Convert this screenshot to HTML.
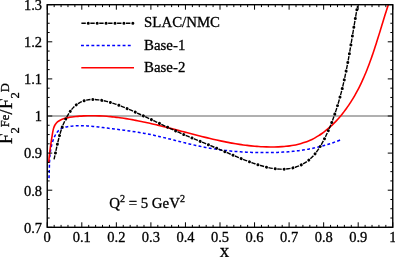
<!DOCTYPE html>
<html><head><meta charset="utf-8"><style>
html,body{margin:0;padding:0;background:#fff;}
svg{display:block;font-family:"Liberation Serif",serif;will-change:transform;}
text{stroke:#000;stroke-width:0.3px;}
</style></head><body>
<svg width="395" height="257" viewBox="0 0 395 257">
<rect width="395" height="257" fill="#fff"/>
<line x1="47.25" x2="392.75" y1="116.0" y2="116.0" stroke="#b0b0b0" stroke-width="1.8"/>
<clipPath id="c"><rect x="47.25" y="4.7" width="345.5" height="222.60000000000002"/></clipPath>
<g clip-path="url(#c)" fill="none">
<path d="M48.98 178.09C49.00 177.62 49.08 176.23 49.12 175.29C49.16 174.36 49.19 173.42 49.22 172.48C49.25 171.54 49.27 170.60 49.30 169.65C49.33 168.71 49.35 167.77 49.38 166.82C49.40 165.88 49.43 164.93 49.47 163.99C49.50 163.04 49.54 162.10 49.58 161.15C49.63 160.21 49.68 159.26 49.75 158.32C49.82 157.38 49.89 156.43 49.98 155.49C50.07 154.55 50.17 153.61 50.29 152.67C50.41 151.73 50.54 150.79 50.70 149.86C50.85 148.92 51.02 147.99 51.22 147.06C51.41 146.13 51.62 145.21 51.87 144.28C52.11 143.36 52.37 142.44 52.66 141.52C52.96 140.61 53.27 139.69 53.63 138.79C53.98 137.89 54.36 136.98 54.78 136.12C55.20 135.26 55.66 134.41 56.16 133.62C56.67 132.84 57.21 132.08 57.82 131.40C58.42 130.71 59.07 130.08 59.78 129.54C60.49 129.00 61.27 128.54 62.09 128.16C62.92 127.78 63.83 127.51 64.74 127.27C65.65 127.03 66.60 126.86 67.54 126.70C68.48 126.53 69.43 126.40 70.38 126.28C71.32 126.16 72.26 126.06 73.21 125.98C74.15 125.90 75.10 125.84 76.04 125.79C76.98 125.74 77.93 125.72 78.87 125.70C79.82 125.69 80.76 125.69 81.71 125.70C82.65 125.72 83.59 125.75 84.54 125.78C85.48 125.82 86.43 125.88 87.37 125.94C88.31 126.00 89.26 126.07 90.20 126.14C91.14 126.22 92.09 126.31 93.03 126.40C93.97 126.50 94.91 126.60 95.86 126.70C96.80 126.80 97.74 126.91 98.68 127.03C99.62 127.14 100.56 127.25 101.50 127.37C102.44 127.49 103.38 127.60 104.32 127.72C105.26 127.84 106.20 127.96 107.14 128.07C108.08 128.19 109.02 128.30 109.96 128.42C110.89 128.53 111.83 128.65 112.77 128.77C113.70 128.88 114.64 129.00 115.57 129.11C116.51 129.23 117.45 129.35 118.38 129.47C119.31 129.58 120.25 129.70 121.18 129.82C122.12 129.94 123.05 130.07 123.98 130.19C124.91 130.31 125.85 130.44 126.78 130.57C127.71 130.69 128.64 130.82 129.57 130.95C130.50 131.09 131.43 131.22 132.36 131.36C133.29 131.50 134.22 131.64 135.14 131.78C136.07 131.92 137.00 132.07 137.93 132.22C138.86 132.37 139.78 132.53 140.71 132.68C141.63 132.84 142.56 133.01 143.48 133.17C144.41 133.34 145.33 133.51 146.26 133.69C147.18 133.86 148.10 134.04 149.03 134.23C149.95 134.41 150.87 134.61 151.79 134.80C152.72 134.99 153.64 135.19 154.56 135.40C155.48 135.60 156.40 135.81 157.32 136.02C158.24 136.23 159.16 136.44 160.08 136.66C161.00 136.87 161.92 137.09 162.84 137.32C163.76 137.54 164.67 137.76 165.59 137.99C166.51 138.21 167.43 138.44 168.35 138.67C169.27 138.90 170.19 139.13 171.10 139.36C172.02 139.59 172.94 139.82 173.86 140.06C174.78 140.29 175.69 140.52 176.61 140.75C177.53 140.99 178.45 141.22 179.37 141.45C180.29 141.68 181.21 141.91 182.12 142.14C183.04 142.37 183.96 142.60 184.88 142.83C185.80 143.06 186.72 143.28 187.64 143.51C188.56 143.73 189.48 143.95 190.40 144.17C191.32 144.39 192.24 144.60 193.17 144.82C194.09 145.03 195.01 145.24 195.93 145.44C196.85 145.65 197.78 145.85 198.70 146.05C199.62 146.25 200.55 146.44 201.47 146.63C202.40 146.82 203.32 147.01 204.25 147.19C205.18 147.37 206.10 147.54 207.03 147.71C207.96 147.88 208.89 148.04 209.81 148.20C210.74 148.36 211.67 148.52 212.60 148.67C213.53 148.82 214.46 148.96 215.40 149.10C216.33 149.24 217.26 149.38 218.19 149.51C219.12 149.64 220.06 149.76 220.99 149.89C221.92 150.01 222.86 150.12 223.79 150.24C224.73 150.35 225.66 150.46 226.60 150.56C227.54 150.66 228.47 150.76 229.41 150.86C230.35 150.95 231.28 151.05 232.22 151.13C233.16 151.22 234.10 151.30 235.04 151.38C235.98 151.46 236.91 151.53 237.85 151.60C238.79 151.67 239.73 151.74 240.67 151.80C241.61 151.87 242.56 151.93 243.50 151.98C244.44 152.04 245.38 152.09 246.32 152.13C247.26 152.18 248.21 152.23 249.15 152.27C250.09 152.31 251.04 152.34 251.98 152.38C252.92 152.41 253.87 152.44 254.81 152.46C255.75 152.49 256.70 152.51 257.64 152.53C258.59 152.55 259.53 152.57 260.48 152.58C261.42 152.59 262.37 152.60 263.31 152.61C264.26 152.61 265.20 152.62 266.15 152.61C267.10 152.61 268.04 152.61 268.99 152.60C269.93 152.58 270.88 152.57 271.82 152.55C272.77 152.53 273.71 152.51 274.66 152.48C275.60 152.46 276.55 152.42 277.49 152.39C278.44 152.35 279.38 152.31 280.32 152.26C281.27 152.21 282.21 152.16 283.15 152.11C284.09 152.05 285.04 151.99 285.98 151.92C286.92 151.85 287.86 151.78 288.80 151.70C289.74 151.62 290.68 151.54 291.62 151.45C292.56 151.36 293.49 151.26 294.43 151.16C295.37 151.06 296.30 150.95 297.24 150.84C298.17 150.72 299.11 150.60 300.04 150.47C300.97 150.35 301.91 150.21 302.84 150.07C303.77 149.93 304.70 149.79 305.63 149.63C306.55 149.48 307.48 149.32 308.41 149.15C309.33 148.98 310.26 148.81 311.18 148.62C312.10 148.44 313.03 148.25 313.95 148.05C314.87 147.86 315.79 147.65 316.70 147.44C317.62 147.23 318.54 147.01 319.45 146.78C320.36 146.55 321.28 146.31 322.19 146.07C323.10 145.82 324.00 145.57 324.91 145.31C325.82 145.05 326.72 144.78 327.63 144.50C328.53 144.22 329.43 143.94 330.33 143.64C331.23 143.34 332.12 143.04 333.02 142.73C333.91 142.41 334.81 142.09 335.70 141.76C336.59 141.43 337.48 141.09 338.36 140.73C339.25 140.38 340.57 139.83 341.01 139.65" stroke="#0000ff" stroke-width="1.5" stroke-dasharray="2.9 2.3"/>
<path d="M48.68 163.00C48.74 162.35 48.89 160.39 49.01 159.09C49.13 157.80 49.26 156.52 49.40 155.24C49.53 153.96 49.68 152.69 49.84 151.42C50.00 150.15 50.17 148.89 50.34 147.62C50.51 146.35 50.69 145.08 50.88 143.81C51.07 142.53 51.26 141.25 51.46 139.97C51.66 138.68 51.87 137.39 52.08 136.08C52.29 134.78 52.47 133.44 52.73 132.14C52.98 130.84 53.21 129.50 53.60 128.27C54.00 127.05 54.46 125.84 55.11 124.79C55.75 123.74 56.55 122.77 57.47 121.97C58.38 121.17 59.47 120.53 60.60 119.97C61.73 119.41 62.99 118.99 64.23 118.60C65.48 118.22 66.78 117.92 68.07 117.65C69.35 117.37 70.65 117.15 71.95 116.95C73.24 116.75 74.54 116.59 75.84 116.46C77.14 116.32 78.45 116.21 79.75 116.12C81.05 116.03 82.35 115.96 83.65 115.89C84.95 115.83 86.24 115.79 87.54 115.76C88.83 115.73 90.13 115.71 91.42 115.71C92.71 115.71 94.00 115.72 95.29 115.75C96.58 115.77 97.87 115.81 99.16 115.86C100.44 115.92 101.73 115.98 103.01 116.06C104.30 116.13 105.58 116.22 106.86 116.32C108.14 116.42 109.42 116.54 110.70 116.66C111.98 116.78 113.26 116.92 114.54 117.06C115.81 117.21 117.09 117.36 118.36 117.53C119.64 117.69 120.91 117.87 122.19 118.05C123.46 118.23 124.73 118.43 126.00 118.63C127.27 118.83 128.54 119.04 129.81 119.26C131.08 119.48 132.35 119.71 133.62 119.94C134.88 120.18 136.15 120.42 137.41 120.67C138.68 120.92 139.95 121.17 141.21 121.43C142.47 121.69 143.74 121.96 145.00 122.24C146.26 122.51 147.53 122.79 148.79 123.08C150.05 123.36 151.31 123.65 152.57 123.95C153.83 124.24 155.09 124.54 156.35 124.84C157.61 125.15 158.87 125.45 160.13 125.77C161.39 126.08 162.65 126.39 163.91 126.71C165.17 127.02 166.42 127.34 167.68 127.67C168.94 127.99 170.20 128.31 171.45 128.64C172.71 128.96 173.97 129.29 175.23 129.62C176.48 129.95 177.74 130.28 179.00 130.61C180.25 130.93 181.51 131.27 182.77 131.60C184.02 131.93 185.28 132.26 186.54 132.58C187.79 132.91 189.05 133.24 190.31 133.57C191.56 133.90 192.82 134.22 194.08 134.55C195.33 134.87 196.59 135.19 197.85 135.51C199.10 135.83 200.36 136.15 201.62 136.46C202.88 136.78 204.14 137.09 205.39 137.39C206.65 137.70 207.91 138.01 209.17 138.30C210.43 138.60 211.69 138.90 212.95 139.19C214.21 139.48 215.47 139.76 216.73 140.04C217.99 140.32 219.25 140.60 220.52 140.87C221.78 141.14 223.04 141.40 224.30 141.65C225.57 141.91 226.83 142.16 228.10 142.40C229.36 142.64 230.63 142.88 231.89 143.10C233.16 143.33 234.43 143.55 235.69 143.76C236.96 143.97 238.23 144.17 239.50 144.37C240.77 144.56 242.05 144.74 243.32 144.92C244.59 145.09 245.87 145.26 247.14 145.41C248.42 145.57 249.70 145.71 250.98 145.85C252.26 145.98 253.54 146.10 254.82 146.22C256.11 146.33 257.39 146.43 258.68 146.52C259.96 146.60 261.25 146.68 262.54 146.74C263.84 146.81 265.13 146.86 266.42 146.90C267.72 146.93 269.02 146.96 270.32 146.97C271.62 146.98 272.92 146.98 274.22 146.96C275.53 146.94 276.84 146.91 278.14 146.86C279.45 146.81 280.75 146.74 282.06 146.65C283.36 146.56 284.66 146.46 285.96 146.32C287.26 146.19 288.55 146.04 289.84 145.86C291.13 145.68 292.41 145.48 293.69 145.25C294.96 145.02 296.23 144.76 297.48 144.47C298.74 144.18 299.99 143.87 301.22 143.51C302.46 143.16 303.68 142.78 304.89 142.36C306.10 141.94 307.30 141.49 308.48 141.00C309.67 140.51 310.83 139.98 311.98 139.42C313.13 138.86 314.27 138.26 315.39 137.63C316.51 137.01 317.61 136.34 318.70 135.66C319.79 134.97 320.86 134.25 321.92 133.50C322.98 132.75 324.02 131.98 325.04 131.18C326.07 130.38 327.07 129.56 328.07 128.72C329.06 127.87 330.03 127.00 330.99 126.12C331.95 125.23 332.89 124.32 333.81 123.40C334.74 122.48 335.65 121.53 336.54 120.58C337.43 119.62 338.30 118.65 339.16 117.67C340.01 116.69 340.85 115.69 341.67 114.69C342.49 113.68 343.30 112.67 344.08 111.64C344.87 110.61 345.64 109.58 346.40 108.53C347.15 107.49 347.89 106.43 348.61 105.37C349.34 104.30 350.04 103.23 350.74 102.15C351.43 101.07 352.11 99.98 352.77 98.88C353.44 97.78 354.09 96.67 354.73 95.56C355.37 94.44 355.99 93.32 356.60 92.19C357.22 91.06 357.81 89.93 358.40 88.78C358.99 87.64 359.56 86.49 360.13 85.33C360.69 84.18 361.25 83.01 361.79 81.85C362.33 80.68 362.86 79.50 363.39 78.32C363.91 77.14 364.42 75.96 364.92 74.77C365.43 73.58 365.92 72.39 366.41 71.19C366.89 69.99 367.37 68.78 367.84 67.58C368.31 66.37 368.77 65.16 369.22 63.94C369.68 62.73 370.12 61.51 370.56 60.29C371.00 59.07 371.44 57.84 371.86 56.62C372.29 55.39 372.71 54.16 373.13 52.93C373.55 51.70 373.96 50.47 374.37 49.23C374.78 48.00 375.18 46.76 375.58 45.52C375.98 44.28 376.37 43.05 376.76 41.81C377.16 40.57 377.54 39.33 377.93 38.09C378.32 36.85 378.70 35.61 379.08 34.37C379.47 33.13 379.85 31.89 380.23 30.65C380.61 29.41 380.98 28.17 381.36 26.93C381.74 25.70 382.12 24.46 382.49 23.23C382.87 21.99 383.25 20.76 383.63 19.53C384.01 18.30 384.39 17.07 384.77 15.85C385.15 14.62 385.53 13.40 385.92 12.18C386.30 10.96 386.69 9.75 387.08 8.53C387.47 7.32 388.06 5.51 388.26 4.91" stroke="#ff0000" stroke-width="1.6"/>
<path d="M54.05 159.37C54.19 158.73 54.63 156.80 54.91 155.51C55.20 154.22 55.48 152.93 55.76 151.64C56.04 150.34 56.32 149.05 56.60 147.75C56.89 146.45 57.17 145.16 57.47 143.86C57.77 142.57 58.08 141.28 58.40 139.99C58.72 138.70 59.05 137.42 59.40 136.14C59.75 134.86 60.11 133.59 60.50 132.32C60.89 131.06 61.30 129.79 61.74 128.54C62.17 127.30 62.63 126.05 63.12 124.82C63.61 123.59 64.13 122.37 64.68 121.16C65.24 119.96 65.82 118.76 66.45 117.58C67.08 116.40 67.74 115.22 68.45 114.08C69.15 112.94 69.90 111.79 70.70 110.72C71.50 109.64 72.34 108.59 73.25 107.63C74.15 106.67 75.10 105.75 76.12 104.94C77.14 104.13 78.22 103.41 79.34 102.78C80.47 102.15 81.65 101.61 82.87 101.16C84.08 100.71 85.34 100.35 86.62 100.08C87.89 99.80 89.21 99.62 90.52 99.51C91.84 99.41 93.18 99.41 94.51 99.46C95.84 99.52 97.19 99.67 98.52 99.84C99.85 100.02 101.18 100.26 102.50 100.52C103.82 100.78 105.13 101.07 106.42 101.39C107.72 101.71 109.01 102.05 110.29 102.42C111.57 102.79 112.84 103.19 114.10 103.60C115.36 104.02 116.62 104.45 117.87 104.91C119.12 105.36 120.36 105.83 121.60 106.31C122.84 106.80 124.07 107.30 125.29 107.81C126.52 108.32 127.74 108.84 128.96 109.37C130.18 109.89 131.39 110.43 132.61 110.97C133.82 111.51 135.03 112.05 136.24 112.60C137.45 113.14 138.65 113.69 139.86 114.25C141.06 114.80 142.26 115.35 143.46 115.91C144.66 116.47 145.86 117.03 147.06 117.59C148.26 118.15 149.46 118.71 150.66 119.27C151.85 119.84 153.05 120.40 154.25 120.96C155.44 121.53 156.64 122.09 157.83 122.66C159.03 123.22 160.23 123.78 161.42 124.35C162.62 124.91 163.82 125.47 165.02 126.03C166.22 126.59 167.42 127.15 168.62 127.70C169.82 128.26 171.02 128.81 172.22 129.36C173.43 129.91 174.63 130.46 175.84 131.01C177.05 131.55 178.26 132.09 179.47 132.63C180.68 133.16 181.90 133.70 183.12 134.23C184.34 134.76 185.56 135.28 186.78 135.80C188.00 136.32 189.23 136.84 190.45 137.35C191.68 137.87 192.91 138.38 194.14 138.89C195.37 139.40 196.60 139.90 197.83 140.41C199.06 140.92 200.29 141.42 201.52 141.93C202.75 142.43 203.98 142.93 205.21 143.44C206.44 143.95 207.67 144.45 208.90 144.96C210.12 145.47 211.35 145.98 212.57 146.49C213.80 147.00 215.02 147.51 216.24 148.03C217.46 148.54 218.68 149.06 219.89 149.58C221.11 150.11 222.32 150.63 223.53 151.15C224.75 151.68 225.96 152.20 227.17 152.72C228.38 153.24 229.59 153.77 230.81 154.29C232.02 154.80 233.23 155.32 234.45 155.83C235.66 156.35 236.88 156.86 238.10 157.36C239.32 157.86 240.55 158.36 241.77 158.85C243.00 159.34 244.23 159.83 245.47 160.30C246.70 160.78 247.94 161.25 249.19 161.71C250.43 162.17 251.68 162.62 252.94 163.05C254.20 163.49 255.46 163.92 256.73 164.33C258.00 164.75 259.28 165.15 260.57 165.54C261.85 165.92 263.15 166.29 264.44 166.63C265.74 166.98 267.05 167.30 268.35 167.59C269.66 167.87 270.97 168.14 272.29 168.35C273.61 168.57 274.93 168.76 276.25 168.89C277.57 169.03 278.89 169.13 280.21 169.17C281.54 169.21 282.86 169.20 284.19 169.13C285.51 169.06 286.84 168.94 288.15 168.76C289.46 168.58 290.77 168.34 292.06 168.05C293.35 167.75 294.64 167.40 295.89 167.00C297.15 166.59 298.39 166.13 299.60 165.61C300.80 165.10 301.99 164.52 303.14 163.89C304.28 163.27 305.40 162.58 306.47 161.84C307.55 161.11 308.58 160.31 309.57 159.47C310.56 158.62 311.51 157.72 312.42 156.78C313.33 155.84 314.20 154.85 315.04 153.83C315.88 152.81 316.68 151.75 317.45 150.66C318.22 149.58 318.96 148.46 319.68 147.32C320.40 146.18 321.08 145.02 321.75 143.85C322.42 142.68 323.06 141.49 323.69 140.29C324.32 139.10 324.92 137.90 325.52 136.70C326.11 135.49 326.68 134.29 327.24 133.07C327.80 131.86 328.35 130.65 328.88 129.43C329.41 128.21 329.92 126.99 330.43 125.76C330.93 124.53 331.42 123.30 331.90 122.07C332.37 120.84 332.84 119.60 333.29 118.36C333.74 117.12 334.19 115.87 334.62 114.62C335.05 113.38 335.47 112.12 335.89 110.87C336.30 109.62 336.70 108.36 337.10 107.10C337.49 105.84 337.87 104.57 338.25 103.31C338.62 102.04 338.99 100.77 339.35 99.50C339.71 98.23 340.06 96.95 340.40 95.67C340.75 94.40 341.08 93.12 341.41 91.83C341.74 90.55 342.06 89.27 342.37 87.98C342.68 86.70 342.99 85.41 343.29 84.12C343.59 82.83 343.89 81.53 344.17 80.24C344.46 78.95 344.75 77.65 345.02 76.35C345.30 75.05 345.57 73.76 345.84 72.46C346.11 71.16 346.37 69.85 346.63 68.55C346.88 67.25 347.14 65.94 347.39 64.64C347.64 63.33 347.88 62.03 348.12 60.72C348.36 59.41 348.60 58.11 348.84 56.80C349.07 55.49 349.31 54.18 349.54 52.87C349.77 51.56 349.99 50.25 350.22 48.94C350.45 47.63 350.67 46.32 350.89 45.01C351.11 43.70 351.33 42.39 351.55 41.08C351.77 39.77 351.99 38.46 352.21 37.15C352.43 35.84 352.65 34.53 352.86 33.22C353.08 31.91 353.30 30.60 353.52 29.29C353.73 27.98 353.95 26.68 354.17 25.37C354.39 24.06 354.61 22.76 354.83 21.45C355.05 20.15 355.27 18.84 355.50 17.54C355.72 16.24 355.95 14.93 356.18 13.63C356.40 12.33 356.63 11.04 356.87 9.74C357.10 8.44 357.46 6.50 357.58 5.85" stroke="#000" stroke-width="1.4" stroke-dasharray="4.4 4.5" stroke-dashoffset="0.3"/>
<path d="M54.05 159.37C54.19 158.73 54.63 156.80 54.91 155.51C55.20 154.22 55.48 152.93 55.76 151.64C56.04 150.34 56.32 149.05 56.60 147.75C56.89 146.45 57.17 145.16 57.47 143.86C57.77 142.57 58.08 141.28 58.40 139.99C58.72 138.70 59.05 137.42 59.40 136.14C59.75 134.86 60.11 133.59 60.50 132.32C60.89 131.06 61.30 129.79 61.74 128.54C62.17 127.30 62.63 126.05 63.12 124.82C63.61 123.59 64.13 122.37 64.68 121.16C65.24 119.96 65.82 118.76 66.45 117.58C67.08 116.40 67.74 115.22 68.45 114.08C69.15 112.94 69.90 111.79 70.70 110.72C71.50 109.64 72.34 108.59 73.25 107.63C74.15 106.67 75.10 105.75 76.12 104.94C77.14 104.13 78.22 103.41 79.34 102.78C80.47 102.15 81.65 101.61 82.87 101.16C84.08 100.71 85.34 100.35 86.62 100.08C87.89 99.80 89.21 99.62 90.52 99.51C91.84 99.41 93.18 99.41 94.51 99.46C95.84 99.52 97.19 99.67 98.52 99.84C99.85 100.02 101.18 100.26 102.50 100.52C103.82 100.78 105.13 101.07 106.42 101.39C107.72 101.71 109.01 102.05 110.29 102.42C111.57 102.79 112.84 103.19 114.10 103.60C115.36 104.02 116.62 104.45 117.87 104.91C119.12 105.36 120.36 105.83 121.60 106.31C122.84 106.80 124.07 107.30 125.29 107.81C126.52 108.32 127.74 108.84 128.96 109.37C130.18 109.89 131.39 110.43 132.61 110.97C133.82 111.51 135.03 112.05 136.24 112.60C137.45 113.14 138.65 113.69 139.86 114.25C141.06 114.80 142.26 115.35 143.46 115.91C144.66 116.47 145.86 117.03 147.06 117.59C148.26 118.15 149.46 118.71 150.66 119.27C151.85 119.84 153.05 120.40 154.25 120.96C155.44 121.53 156.64 122.09 157.83 122.66C159.03 123.22 160.23 123.78 161.42 124.35C162.62 124.91 163.82 125.47 165.02 126.03C166.22 126.59 167.42 127.15 168.62 127.70C169.82 128.26 171.02 128.81 172.22 129.36C173.43 129.91 174.63 130.46 175.84 131.01C177.05 131.55 178.26 132.09 179.47 132.63C180.68 133.16 181.90 133.70 183.12 134.23C184.34 134.76 185.56 135.28 186.78 135.80C188.00 136.32 189.23 136.84 190.45 137.35C191.68 137.87 192.91 138.38 194.14 138.89C195.37 139.40 196.60 139.90 197.83 140.41C199.06 140.92 200.29 141.42 201.52 141.93C202.75 142.43 203.98 142.93 205.21 143.44C206.44 143.95 207.67 144.45 208.90 144.96C210.12 145.47 211.35 145.98 212.57 146.49C213.80 147.00 215.02 147.51 216.24 148.03C217.46 148.54 218.68 149.06 219.89 149.58C221.11 150.11 222.32 150.63 223.53 151.15C224.75 151.68 225.96 152.20 227.17 152.72C228.38 153.24 229.59 153.77 230.81 154.29C232.02 154.80 233.23 155.32 234.45 155.83C235.66 156.35 236.88 156.86 238.10 157.36C239.32 157.86 240.55 158.36 241.77 158.85C243.00 159.34 244.23 159.83 245.47 160.30C246.70 160.78 247.94 161.25 249.19 161.71C250.43 162.17 251.68 162.62 252.94 163.05C254.20 163.49 255.46 163.92 256.73 164.33C258.00 164.75 259.28 165.15 260.57 165.54C261.85 165.92 263.15 166.29 264.44 166.63C265.74 166.98 267.05 167.30 268.35 167.59C269.66 167.87 270.97 168.14 272.29 168.35C273.61 168.57 274.93 168.76 276.25 168.89C277.57 169.03 278.89 169.13 280.21 169.17C281.54 169.21 282.86 169.20 284.19 169.13C285.51 169.06 286.84 168.94 288.15 168.76C289.46 168.58 290.77 168.34 292.06 168.05C293.35 167.75 294.64 167.40 295.89 167.00C297.15 166.59 298.39 166.13 299.60 165.61C300.80 165.10 301.99 164.52 303.14 163.89C304.28 163.27 305.40 162.58 306.47 161.84C307.55 161.11 308.58 160.31 309.57 159.47C310.56 158.62 311.51 157.72 312.42 156.78C313.33 155.84 314.20 154.85 315.04 153.83C315.88 152.81 316.68 151.75 317.45 150.66C318.22 149.58 318.96 148.46 319.68 147.32C320.40 146.18 321.08 145.02 321.75 143.85C322.42 142.68 323.06 141.49 323.69 140.29C324.32 139.10 324.92 137.90 325.52 136.70C326.11 135.49 326.68 134.29 327.24 133.07C327.80 131.86 328.35 130.65 328.88 129.43C329.41 128.21 329.92 126.99 330.43 125.76C330.93 124.53 331.42 123.30 331.90 122.07C332.37 120.84 332.84 119.60 333.29 118.36C333.74 117.12 334.19 115.87 334.62 114.62C335.05 113.38 335.47 112.12 335.89 110.87C336.30 109.62 336.70 108.36 337.10 107.10C337.49 105.84 337.87 104.57 338.25 103.31C338.62 102.04 338.99 100.77 339.35 99.50C339.71 98.23 340.06 96.95 340.40 95.67C340.75 94.40 341.08 93.12 341.41 91.83C341.74 90.55 342.06 89.27 342.37 87.98C342.68 86.70 342.99 85.41 343.29 84.12C343.59 82.83 343.89 81.53 344.17 80.24C344.46 78.95 344.75 77.65 345.02 76.35C345.30 75.05 345.57 73.76 345.84 72.46C346.11 71.16 346.37 69.85 346.63 68.55C346.88 67.25 347.14 65.94 347.39 64.64C347.64 63.33 347.88 62.03 348.12 60.72C348.36 59.41 348.60 58.11 348.84 56.80C349.07 55.49 349.31 54.18 349.54 52.87C349.77 51.56 349.99 50.25 350.22 48.94C350.45 47.63 350.67 46.32 350.89 45.01C351.11 43.70 351.33 42.39 351.55 41.08C351.77 39.77 351.99 38.46 352.21 37.15C352.43 35.84 352.65 34.53 352.86 33.22C353.08 31.91 353.30 30.60 353.52 29.29C353.73 27.98 353.95 26.68 354.17 25.37C354.39 24.06 354.61 22.76 354.83 21.45C355.05 20.15 355.27 18.84 355.50 17.54C355.72 16.24 355.95 14.93 356.18 13.63C356.40 12.33 356.63 11.04 356.87 9.74C357.10 8.44 357.46 6.50 357.58 5.85" stroke="#000" stroke-width="3" stroke-linecap="round" stroke-dasharray="0.01 8.89" stroke-dashoffset="-6.55"/>
</g>
<rect x="47.25" y="4.7" width="345.5" height="222.60000000000002" fill="none" stroke="#000" stroke-width="1.4"/>
<path d="M47.25 227.30v-5.0M47.25 4.70v5.0M54.16 227.30v-2.4M54.16 4.70v2.4M61.07 227.30v-2.4M61.07 4.70v2.4M67.98 227.30v-2.4M67.98 4.70v2.4M74.89 227.30v-2.4M74.89 4.70v2.4M81.80 227.30v-5.0M81.80 4.70v5.0M88.71 227.30v-2.4M88.71 4.70v2.4M95.62 227.30v-2.4M95.62 4.70v2.4M102.53 227.30v-2.4M102.53 4.70v2.4M109.44 227.30v-2.4M109.44 4.70v2.4M116.35 227.30v-5.0M116.35 4.70v5.0M123.26 227.30v-2.4M123.26 4.70v2.4M130.17 227.30v-2.4M130.17 4.70v2.4M137.08 227.30v-2.4M137.08 4.70v2.4M143.99 227.30v-2.4M143.99 4.70v2.4M150.90 227.30v-5.0M150.90 4.70v5.0M157.81 227.30v-2.4M157.81 4.70v2.4M164.72 227.30v-2.4M164.72 4.70v2.4M171.63 227.30v-2.4M171.63 4.70v2.4M178.54 227.30v-2.4M178.54 4.70v2.4M185.45 227.30v-5.0M185.45 4.70v5.0M192.36 227.30v-2.4M192.36 4.70v2.4M199.27 227.30v-2.4M199.27 4.70v2.4M206.18 227.30v-2.4M206.18 4.70v2.4M213.09 227.30v-2.4M213.09 4.70v2.4M220.00 227.30v-5.0M220.00 4.70v5.0M226.91 227.30v-2.4M226.91 4.70v2.4M233.82 227.30v-2.4M233.82 4.70v2.4M240.73 227.30v-2.4M240.73 4.70v2.4M247.64 227.30v-2.4M247.64 4.70v2.4M254.55 227.30v-5.0M254.55 4.70v5.0M261.46 227.30v-2.4M261.46 4.70v2.4M268.37 227.30v-2.4M268.37 4.70v2.4M275.28 227.30v-2.4M275.28 4.70v2.4M282.19 227.30v-2.4M282.19 4.70v2.4M289.10 227.30v-5.0M289.10 4.70v5.0M296.01 227.30v-2.4M296.01 4.70v2.4M302.92 227.30v-2.4M302.92 4.70v2.4M309.83 227.30v-2.4M309.83 4.70v2.4M316.74 227.30v-2.4M316.74 4.70v2.4M323.65 227.30v-5.0M323.65 4.70v5.0M330.56 227.30v-2.4M330.56 4.70v2.4M337.47 227.30v-2.4M337.47 4.70v2.4M344.38 227.30v-2.4M344.38 4.70v2.4M351.29 227.30v-2.4M351.29 4.70v2.4M358.20 227.30v-5.0M358.20 4.70v5.0M365.11 227.30v-2.4M365.11 4.70v2.4M372.02 227.30v-2.4M372.02 4.70v2.4M378.93 227.30v-2.4M378.93 4.70v2.4M385.84 227.30v-2.4M385.84 4.70v2.4M392.75 227.30v-5.0M392.75 4.70v5.0M47.25 227.30h5.0M392.75 227.30h-5.0M47.25 218.03h2.4M392.75 218.03h-2.4M47.25 208.75h2.4M392.75 208.75h-2.4M47.25 199.48h2.4M392.75 199.48h-2.4M47.25 190.20h5.0M392.75 190.20h-5.0M47.25 180.93h2.4M392.75 180.93h-2.4M47.25 171.65h2.4M392.75 171.65h-2.4M47.25 162.38h2.4M392.75 162.38h-2.4M47.25 153.10h5.0M392.75 153.10h-5.0M47.25 143.82h2.4M392.75 143.82h-2.4M47.25 134.55h2.4M392.75 134.55h-2.4M47.25 125.27h2.4M392.75 125.27h-2.4M47.25 116.00h5.0M392.75 116.00h-5.0M47.25 106.73h2.4M392.75 106.73h-2.4M47.25 97.45h2.4M392.75 97.45h-2.4M47.25 88.17h2.4M392.75 88.17h-2.4M47.25 78.90h5.0M392.75 78.90h-5.0M47.25 69.62h2.4M392.75 69.62h-2.4M47.25 60.35h2.4M392.75 60.35h-2.4M47.25 51.07h2.4M392.75 51.07h-2.4M47.25 41.80h5.0M392.75 41.80h-5.0M47.25 32.52h2.4M392.75 32.52h-2.4M47.25 23.25h2.4M392.75 23.25h-2.4M47.25 13.97h2.4M392.75 13.97h-2.4M47.25 4.70h5.0M392.75 4.70h-5.0" stroke="#000" stroke-width="1" fill="none"/>
<g font-size="14.5" fill="#000"><text x="47.2" y="242.2" text-anchor="middle">0</text><text x="81.8" y="242.2" text-anchor="middle">0.1</text><text x="116.4" y="242.2" text-anchor="middle">0.2</text><text x="150.9" y="242.2" text-anchor="middle">0.3</text><text x="185.5" y="242.2" text-anchor="middle">0.4</text><text x="220.0" y="242.2" text-anchor="middle">0.5</text><text x="254.5" y="242.2" text-anchor="middle">0.6</text><text x="289.1" y="242.2" text-anchor="middle">0.7</text><text x="323.7" y="242.2" text-anchor="middle">0.8</text><text x="358.2" y="242.2" text-anchor="middle">0.9</text><text x="392.8" y="242.2" text-anchor="middle">1</text><text x="42" y="232.6" text-anchor="end">0.7</text><text x="42" y="195.5" text-anchor="end">0.8</text><text x="42" y="158.4" text-anchor="end">0.9</text><text x="42" y="121.3" text-anchor="end">1</text><text x="42" y="84.2" text-anchor="end">1.1</text><text x="42" y="47.1" text-anchor="end">1.2</text><text x="42" y="10.0" text-anchor="end">1.3</text></g>
<g fill="none">
<path d="M81.4 23.2H134.1" stroke="#000" stroke-width="1.4" stroke-dasharray="4.4 4.52"/>
<path d="M81.4 23.2H134.6" stroke="#000" stroke-width="3" stroke-linecap="round" stroke-dasharray="0.01 8.91" stroke-dashoffset="-6.85"/>
<path d="M81 45.6H131.8" stroke="#0000ff" stroke-width="1.5" stroke-dasharray="2.9 2.3"/>
<path d="M81.3 67.8H134" stroke="#ff0000" stroke-width="1.6"/>
</g>
<g font-size="14.85" fill="#000">
<text x="144.1" y="27.4">SLAC/NMC</text>
<text x="144.1" y="49.5">Base-1</text>
<text x="144.1" y="71.8">Base-2</text>
<text x="109.2" y="208">Q<tspan font-size="10" dy="-6.5">2</tspan><tspan dy="6.5"> = 5 GeV</tspan><tspan font-size="10" dy="-6.5">2</tspan></text>
</g>
<text x="224.4" y="257" font-size="19" text-anchor="middle">x</text>
<text transform="translate(12.2 144.3) rotate(-90)" font-size="19.3">F<tspan font-size="12.65" dy="6.4">2</tspan><tspan font-size="12.65" dy="-10">Fe</tspan><tspan dy="3.6">/F</tspan><tspan font-size="12.65" dy="6.4">2</tspan><tspan font-size="12.65" dy="-10">D</tspan></text>
</svg>
</body></html>
